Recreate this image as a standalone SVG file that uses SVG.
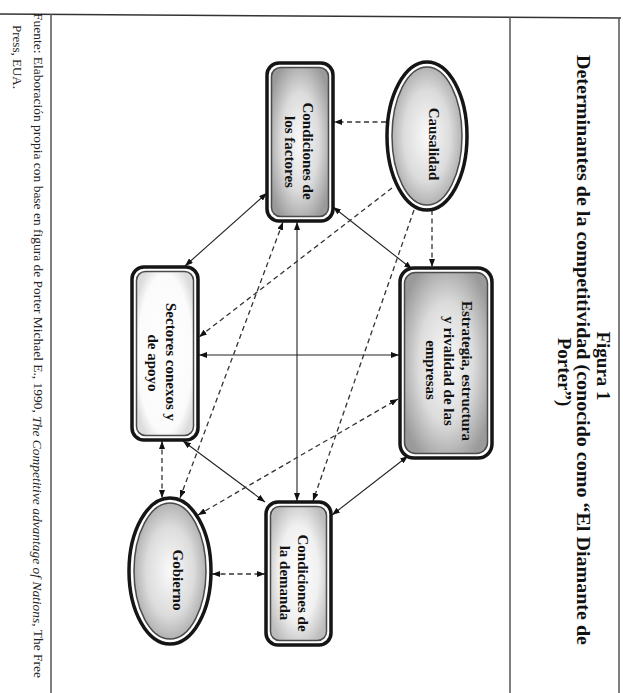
<svg xmlns="http://www.w3.org/2000/svg" width="623" height="693" viewBox="0 0 623 693">
<style>
.frame{stroke:#555;stroke-width:1.5;fill:none}
.outer{fill:none;stroke:#151515;stroke-width:3.5}
.inner{stroke:#4a4a4a;stroke-width:1.5}
.lbl{font-family:"Liberation Serif","Times New Roman",serif;font-weight:bold;font-size:15px;fill:#111;text-anchor:middle;dominant-baseline:central}
.ttl{font-family:"Liberation Serif","Times New Roman",serif;font-weight:bold;font-size:19px;fill:#111;text-anchor:middle;dominant-baseline:central}
.src{font-family:"Liberation Serif","Times New Roman",serif;font-size:13px;fill:#222;dominant-baseline:central}
.sol{stroke:#222;stroke-width:1.1;fill:none}
.dash{stroke:#333;stroke-width:1.3;fill:none;stroke-dasharray:5 3.5}
.sgl{marker-end:url(#ah)}
.dbl{marker-end:url(#ah);marker-start:url(#ah)}
</style>
<defs>
<marker id="ah" viewBox="0 0 8 6" refX="8" refY="3" markerWidth="8" markerHeight="6" markerUnits="userSpaceOnUse" orient="auto-start-reverse">
<path d="M0,0 L8,3 L0,6 z" fill="#111"/>
</marker>
<radialGradient id="gDark" cx="50%" cy="50%" r="60%">
<stop offset="0" stop-color="#fafafa"/>
<stop offset="0.55" stop-color="#dcdcdc"/>
<stop offset="1" stop-color="#9a9a9a"/>
</radialGradient>
<radialGradient id="gLight" cx="50%" cy="50%" r="60%">
<stop offset="0" stop-color="#ffffff"/>
<stop offset="0.6" stop-color="#f0f0f0"/>
<stop offset="1" stop-color="#bcbcbc"/>
</radialGradient>
<radialGradient id="gWhite" cx="50%" cy="50%" r="60%">
<stop offset="0" stop-color="#ffffff"/>
<stop offset="0.8" stop-color="#fbfbfb"/>
<stop offset="1" stop-color="#dcdcdc"/>
</radialGradient>
</defs>
<rect width="623" height="693" fill="#fff"/>
<g id="frame">
<line class="frame" x1="0" y1="14" x2="621" y2="18" style="stroke:#333"/>
<line class="frame" x1="51" y1="14" x2="51" y2="693"/>
<line class="frame" x1="510" y1="17" x2="510" y2="693"/>
<line class="frame" x1="619" y1="18" x2="619" y2="693"/>
</g>
<g id="title">
<text class="ttl" transform="translate(603,366) rotate(90)">Figura 1</text>
<text class="ttl" transform="translate(583,350) rotate(90)" textLength="590" lengthAdjust="spacingAndGlyphs">Determinantes de la competitividad (conocido como “El Diamante de</text>
<text class="ttl" transform="translate(564,372) rotate(90)">Porter”)</text>
</g>
<g id="source">
<text class="src" transform="translate(38,13) rotate(90)" textLength="665" lengthAdjust="spacingAndGlyphs">Fuente: Elaboración propia con base en figura de Porter Michael E., 1990, <tspan font-style="italic">The Competitive advantage of Nations</tspan>, The Free</text>
<text class="src" transform="translate(17,25) rotate(90)">Press, EUA.</text>
</g>
<g id="connectors">
<line class="sol dbl" x1="267" y1="193" x2="185" y2="266"/>
<line class="sol dbl" x1="333" y1="207" x2="412" y2="269"/>
<line class="sol dbl" x1="297" y1="222" x2="297" y2="501"/>
<line class="sol dbl" x1="399" y1="355" x2="199" y2="355"/>
<line class="sol dbl" x1="183" y1="441" x2="265" y2="502"/>
<line class="sol dbl" x1="408" y1="456" x2="332" y2="515"/>
<line class="dash sgl" x1="386" y1="122" x2="334" y2="122"/>
<line class="dash sgl" x1="432" y1="210" x2="432" y2="267"/>
<line class="dash sgl" x1="414" y1="210" x2="313" y2="501"/>
<line class="dash sgl" x1="392" y1="188" x2="199" y2="337"/>
<line class="dash dbl" x1="180" y1="498" x2="283" y2="222"/>
<line class="dash dbl" x1="198" y1="515" x2="398" y2="399"/>
<line class="dash dbl" x1="162" y1="441" x2="162" y2="498"/>
<line class="dash dbl" x1="212" y1="574" x2="265" y2="574"/>
</g>
<g id="causalidad">
<ellipse class="outer" cx="427" cy="136" rx="40" ry="74"/>
<ellipse class="inner" cx="427" cy="136" rx="35" ry="69" fill="url(#gDark)"/>
<text class="lbl" transform="translate(434,144) rotate(90)">Causalidad</text>
</g>
<g id="factores">
<rect class="outer" x="267" y="63" width="66" height="158" rx="12"/>
<rect class="inner" x="271.5" y="67.5" width="57" height="149" rx="9" fill="url(#gDark)"/>
<text class="lbl" transform="translate(308,151) rotate(90)">Condiciones de</text>
<text class="lbl" transform="translate(290,152) rotate(90)">los factores</text>
</g>
<g id="estrategia">
<rect class="outer" x="400" y="268" width="92" height="190" rx="14"/>
<rect class="inner" x="404.5" y="272.5" width="83" height="181" rx="11" fill="url(#gDark)"/>
<text class="lbl" transform="translate(467,371) rotate(90)">Estrategia, estructura</text>
<text class="lbl" transform="translate(449,371) rotate(90)">y rivalidad de las</text>
<text class="lbl" transform="translate(431,370) rotate(90)">empresas</text>
</g>
<g id="sectores">
<rect class="outer" x="132" y="267" width="66" height="173" rx="12"/>
<rect class="inner" x="136.5" y="271.5" width="57" height="164" rx="9" fill="url(#gWhite)"/>
<text class="lbl" transform="translate(171,362) rotate(90)">Sectores conexos y</text>
<text class="lbl" transform="translate(153,363) rotate(90)">de apoyo</text>
</g>
<g id="demanda">
<rect class="outer" x="266" y="502" width="65" height="143" rx="12"/>
<rect class="inner" x="270.5" y="506.5" width="56" height="134" rx="9" fill="url(#gLight)"/>
<text class="lbl" transform="translate(303,583) rotate(90)">Condiciones de</text>
<text class="lbl" transform="translate(285,583) rotate(90)">la demanda</text>
</g>
<g id="gobierno">
<ellipse class="outer" cx="170" cy="571" rx="41" ry="73"/>
<ellipse class="inner" cx="170" cy="571" rx="36" ry="68" fill="url(#gDark)"/>
<text class="lbl" transform="translate(178,580) rotate(90)">Gobierno</text>
</g>
</svg>
